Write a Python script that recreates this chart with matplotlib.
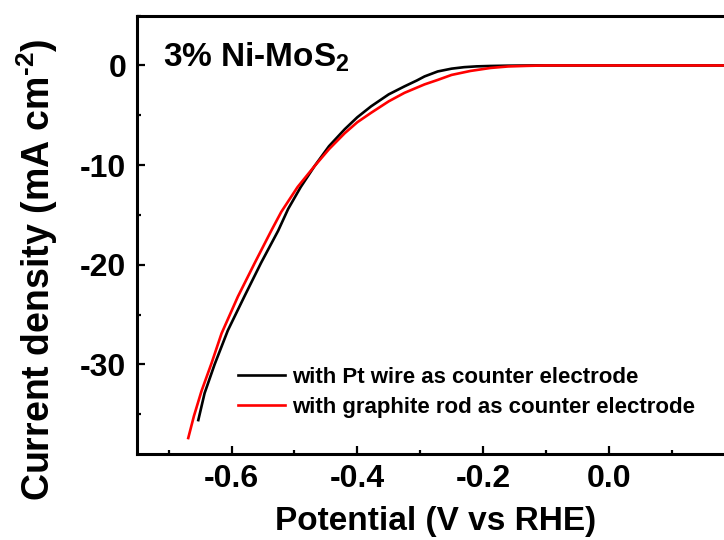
import numpy as np
import matplotlib
matplotlib.use("Agg")
import matplotlib.pyplot as plt
from matplotlib.ticker import MultipleLocator, FixedLocator, FormatStrFormatter

plt.rcParams['font.family'] = ['Liberation Sans', 'DejaVu Sans']
plt.rcParams['font.weight'] = 'bold'
plt.rcParams['mathtext.fontset'] = 'custom'
plt.rcParams['mathtext.rm'] = 'Liberation Sans:bold'
plt.rcParams['mathtext.bf'] = 'Liberation Sans:bold'
plt.rcParams['mathtext.default'] = 'bf'
plt.rcParams['axes.unicode_minus'] = False

# LSV curves (potential in V vs RHE, current in mA cm-2)
pt_potential = [-0.653, -0.643, -0.627, -0.606, -0.579, -0.553, -0.526, -0.510, -0.490,
                -0.468, -0.445, -0.420, -0.400, -0.378, -0.350, -0.325, -0.305, -0.293,
                -0.272, -0.250, -0.230, -0.210, -0.188, -0.160, -0.120, 0.0, 0.2]
pt_current = [-35.6, -32.9, -30.0, -26.6, -23.1, -19.8, -16.6, -14.4, -12.2,
              -10.1, -8.1, -6.4, -5.2, -4.1, -2.9, -2.1, -1.5, -1.1,
              -0.6, -0.32, -0.17, -0.09, -0.05, -0.02, 0.0, 0.0, 0.0]

gr_potential = [-0.669, -0.660, -0.648, -0.632, -0.616, -0.590, -0.563, -0.537, -0.521,
                -0.495, -0.468, -0.445, -0.420, -0.400, -0.378, -0.350, -0.325, -0.293,
                -0.272, -0.250, -0.220, -0.188, -0.160, -0.130, -0.100, 0.0, 0.2]
gr_current = [-37.4, -35.2, -32.7, -29.9, -26.9, -23.2, -19.8, -16.6, -14.7,
              -12.2, -10.1, -8.4, -6.8, -5.7, -4.75, -3.6, -2.75, -1.9,
              -1.45, -0.95, -0.55, -0.25, -0.1, -0.04, 0.0, 0.0, 0.0]

labels = ['with Pt wire as counter electrode', 'with graphite rod as counter electrode']
colors = ['black', 'red']
x_major = [-0.6, -0.4, -0.2, 0.0]
x_minor = [-0.7, -0.5, -0.3, -0.1, 0.1]

fig = plt.figure(figsize=(7.24, 5.40), dpi=100)
ax = fig.add_axes([0.1897, 0.1593, 0.8246, 0.8117])

ax.plot(pt_potential, pt_current, color=colors[0], lw=1.9, label=labels[0])
ax.plot(gr_potential, gr_current, color=colors[1], lw=1.9, label=labels[1])

ax.set_xlim(-0.75, 0.2)
ax.set_ylim(-39, 5)

ax.xaxis.set_major_locator(FixedLocator(x_major))
ax.xaxis.set_minor_locator(FixedLocator(x_minor))
ax.xaxis.set_major_formatter(FormatStrFormatter('%.1f'))
ax.yaxis.set_major_locator(MultipleLocator(10))
ax.yaxis.set_minor_locator(MultipleLocator(5))

for s in ax.spines.values():
    s.set_linewidth(2.2)
ax.tick_params(which='both', direction='in', width=1.6, labelsize=23)
ax.tick_params(which='major', length=6, pad=8)
ax.tick_params(which='minor', length=3)
ax.tick_params(axis='x', pad=7)
for t in ax.get_xticklabels() + ax.get_yticklabels():
    t.set_fontweight('bold')

ax.set_xlabel('Potential (V vs RHE)', fontsize=24, fontweight='bold')
ax.set_ylabel(r'Current density (mA cm$^{\text{-}2}$)', fontsize=27, fontweight='bold')
ax.xaxis.set_label_coords(0.5, -0.118)
ax.yaxis.set_label_coords(-0.13, 0.42)

ax.text(0.0425, 0.8837, '3% Ni-MoS$_2$', transform=ax.transAxes, ha='left',
        va='baseline', fontsize=24, fontweight='bold')

ax.legend(loc='center left', bbox_to_anchor=(0.169, 0.1405), frameon=False,
          fontsize=16, handlelength=2.1, handletextpad=0.3, labelspacing=0.38,
          borderpad=0, borderaxespad=0)

fig.savefig('out.png', dpi=100)
